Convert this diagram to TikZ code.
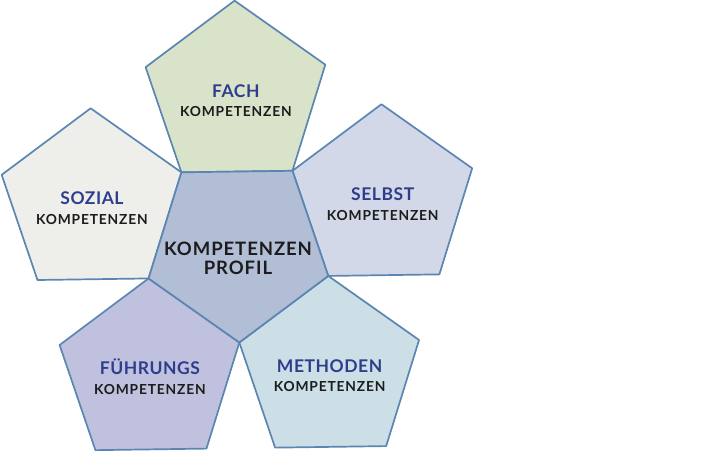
\documentclass[tikz,border=0pt]{standalone}
\usepackage{fontspec}
\setmainfont{Lato}
\usetikzlibrary{shapes.geometric}
\definecolor{rim}{HTML}{5B86B2}
\definecolor{headblue}{HTML}{2F3E8C}
\definecolor{txtdark}{HTML}{1C1C1C}
\definecolor{fillctr}{HTML}{B1BED6}
\definecolor{fillfach}{HTML}{D9E3CA}
\definecolor{fillselbst}{HTML}{D2D8E7}
\definecolor{fillmeth}{HTML}{CCDEE6}
\definecolor{fillfuehr}{HTML}{C0C1DE}
\definecolor{fillsozial}{HTML}{EEEFEA}
\tikzset{
  penta/.style={regular polygon, regular polygon sides=5, minimum size=189pt,
    inner sep=0pt, outer sep=0pt, draw=rim, line width=1.7pt, line join=round},
  head/.style={anchor=base, inner sep=0pt, text=headblue,
    font=\bfseries\fontsize{17.5}{20}\selectfont\addfontfeatures{LetterSpace=3}},
  sub/.style={anchor=base, inner sep=0pt, text=txtdark,
    font=\bfseries\fontsize{13.8}{15}\selectfont\addfontfeatures{LetterSpace=6}},
  midline/.style={anchor=base, inner sep=0pt, text=txtdark,
    font=\bfseries\fontsize{18.5}{20}\selectfont\addfontfeatures{LetterSpace=5}}
}
\begin{document}
\begin{tikzpicture}[x=1pt,y=1pt]
    \useasboundingbox (0,0) rectangle (728,453);
    \coordinate (ctr) at (238,205);
    % outer pentagons, each sharing one side with the middle one
    \foreach \ang/\col/\nm/\word in {90/fillfach/fach/FACH,18/fillselbst/selbst/SELBST,
        -54/fillmeth/meth/METHODEN,-126/fillfuehr/fuehr/FÜHRUNGS,162/fillsozial/sozial/SOZIAL}{
    \node[penta, fill=\col, shape border rotate=0.8] (\nm) at ([shift={(\ang+0.8:152.9)}]ctr) {};
    \node[head] (\nm head) at ([yshift=-2pt]\nm.center) {\word};
    \node[sub] (\nm sub) at ([yshift=-21.5pt]\nm.center) {KOMPETENZEN};}
    \node[penta, fill=fillctr, shape border rotate=180.8] (mid) at (ctr) {};
    \node[midline] (midtop) at ([yshift=-8pt]mid.center) {KOMPETENZEN};
    \node[midline] (midbot) at ([yshift=-26.3pt]mid.center) {PROFIL};
\end{tikzpicture}
\end{document}
